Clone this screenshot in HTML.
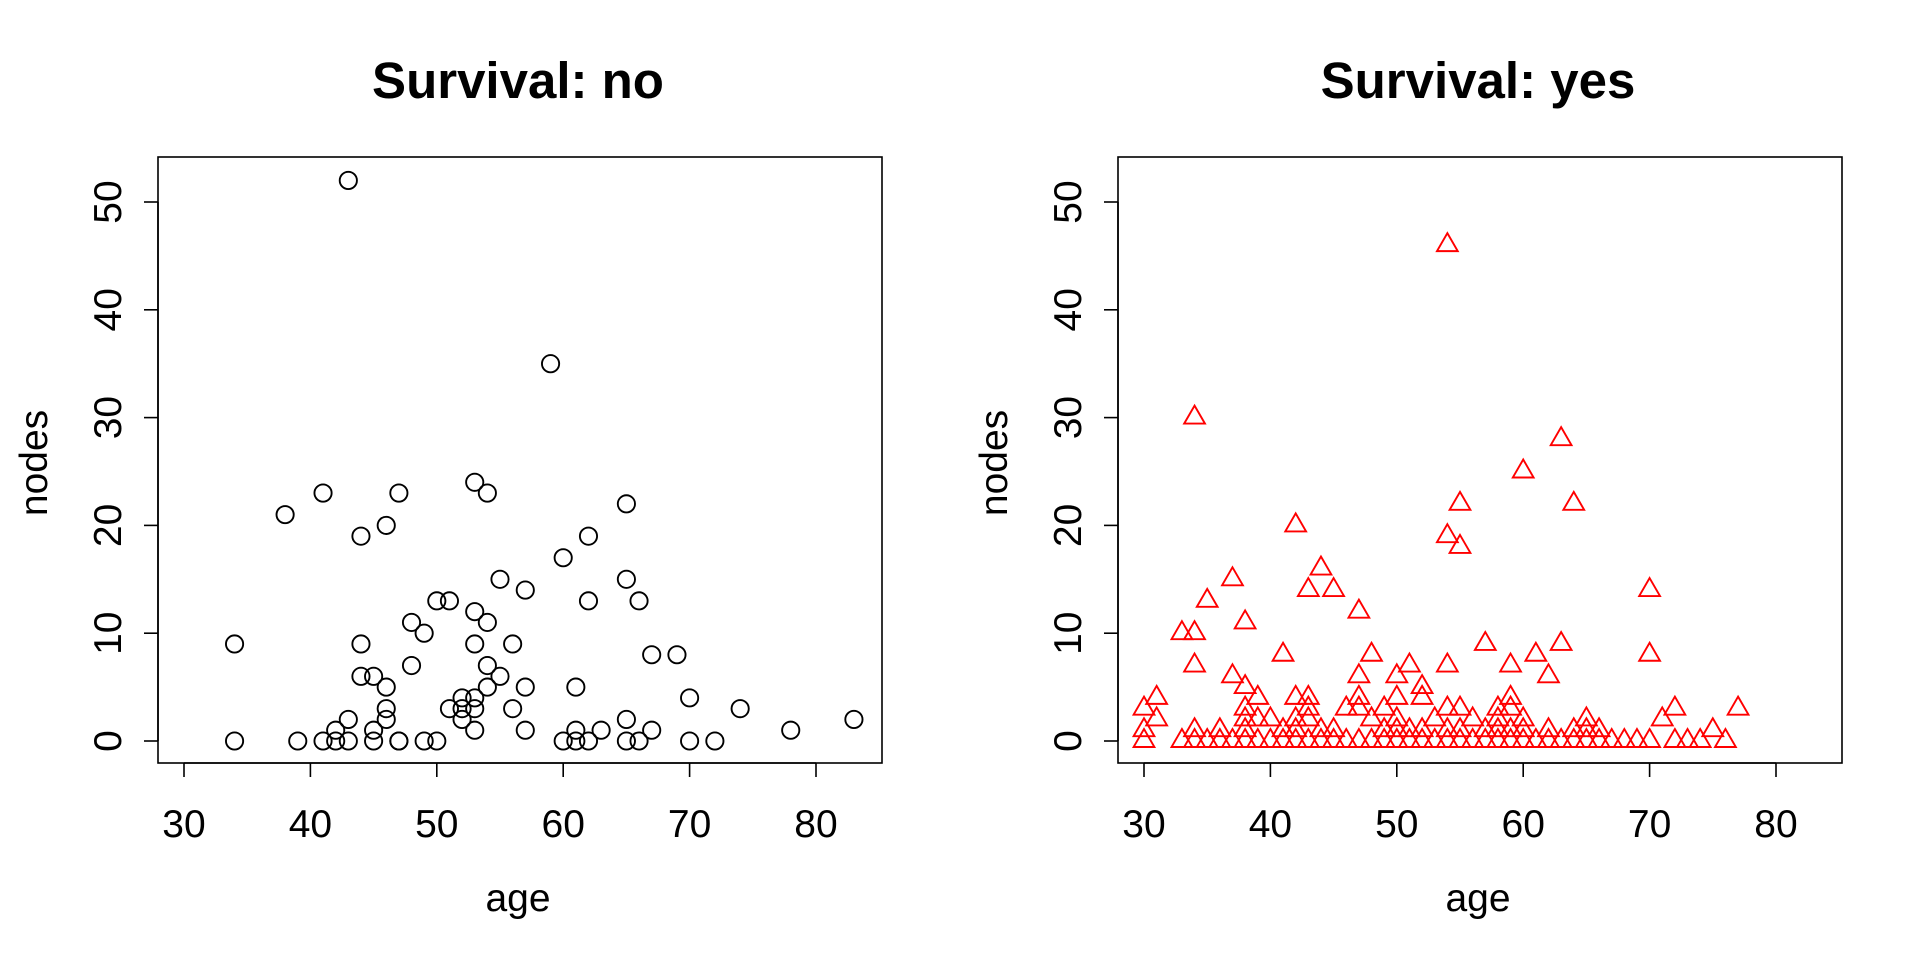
<!DOCTYPE html>
<html><head><meta charset="utf-8"><style>
html,body{margin:0;padding:0;background:#fff;}
svg{display:block;font-family:"Liberation Sans",Arial,sans-serif;}
</style></head><body>
<svg id="chart" width="1920" height="960" viewBox="0 0 1920 960" xmlns="http://www.w3.org/2000/svg"></svg>
<script>
const xTicks = [30, 40, 50, 60, 70, 80];
const yTicks = [0, 10, 20, 30, 40, 50];
const panelTitles = ["Survival: no", "Survival: yes"];
const noAge = [43,59,53,41,47,54,38,65,46,44,62,60,55,65,57,50,51,62,66,53,48,54,34,44,53,56,49,67,69,48,54,44,45,55,46,54,57,61,70,52,53,46,51,52,53,56,74,43,46,52,65,83,42,45,53,57,61,63,67,78,34,39,41,42,43,45,47,49,50,60,61,62,65,66,70,72,47];
const noNodes = [52,35,24,23,23,23,21,22,20,19,19,17,15,15,14,13,13,13,13,12,11,11,9,9,9,9,10,8,8,7,7,6,6,6,5,5,5,5,4,4,4,3,3,3,3,3,3,2,2,2,2,2,1,1,1,1,1,1,1,1,0,0,0,0,0,0,0,0,0,0,0,0,0,0,0,0,0];
const yesAge = [54,34,63,60,64,55,42,54,55,44,37,43,45,70,35,47,38,33,34,57,63,41,48,61,70,34,54,59,51,37,47,50,62,38,52,31,39,42,43,47,50,52,59,30,38,43,46,47,49,54,55,58,59,72,77,31,38,39,40,42,43,48,50,53,56,58,60,65,71,30,34,36,38,41,42,44,45,49,50,51,52,54,55,57,58,59,60,62,64,65,66,75,30,33,34,35,36,37,38,39,40,41,42,43,44,45,46,47,48,49,50,51,52,53,54,55,56,57,58,59,60,61,62,63,64,65,66,67,68,69,70,72,73,74,76];
const yesNodes = [46,30,28,25,22,22,20,19,18,16,15,14,14,14,13,12,11,10,10,9,9,8,8,8,8,7,7,7,7,6,6,6,6,5,5,4,4,4,4,4,4,4,4,3,3,3,3,3,3,3,3,3,3,3,3,2,2,2,2,2,2,2,2,2,2,2,2,2,2,1,1,1,1,1,1,1,1,1,1,1,1,1,1,1,1,1,1,1,1,1,1,1,0,0,0,0,0,0,0,0,0,0,0,0,0,0,0,0,0,0,0,0,0,0,0,0,0,0,0,0,0,0,0,0,0,0,0,0,0,0,0,0,0,0,0];

const NS = "http://www.w3.org/2000/svg";
const svg = document.getElementById("chart");
function mk(tag, attrs, parent){const e=document.createElementNS(NS,tag);for(const k in attrs)e.setAttribute(k,attrs[k]);(parent||svg).appendChild(e);return e;}

function drawPanel(idx, ages, nodes, shape, color){
  const off = idx*960;
  const g = mk("g",{});
  
  
  const xs = v => off + 184 + (v-30)*12.64;
  const ys = v => 741 - v*10.78;
  const box = mk("rect",{x:off+158,y:157,width:724,height:606,fill:"none",stroke:"#000","stroke-width":1.6},g);
  
  
  const t = mk("text",{x:off+518,y:98,"text-anchor":"middle","font-size":51,"font-weight":"bold"},g);
  t.textContent = panelTitles[idx];
  
  
  const xa = mk("g",{},g);
  
  
  mk("line",{x1:xs(xTicks[0]),x2:xs(xTicks[xTicks.length-1]),y1:763,y2:763,stroke:"#000","stroke-width":1.6},xa);
  xTicks.forEach(v=>{
    mk("line",{x1:xs(v),x2:xs(v),y1:763,y2:777,stroke:"#000","stroke-width":1.6},xa);
    const l = mk("text",{x:xs(v),y:837,"text-anchor":"middle","font-size":39},xa);
    l.textContent = v;
    
    
  });
  const xt = mk("text",{x:off+518,y:911,"text-anchor":"middle","font-size":39},g);
  xt.textContent = "age";
  
  
  const ya = mk("g",{},g);
  
  
  mk("line",{x1:off+158,x2:off+158,y1:ys(0),y2:ys(50),stroke:"#000","stroke-width":1.6},ya);
  yTicks.forEach(v=>{
    mk("line",{x1:off+144,x2:off+158,y1:ys(v),y2:ys(v),stroke:"#000","stroke-width":1.6},ya);
    const l = mk("text",{x:0,y:0,"text-anchor":"middle","font-size":39,transform:`translate(${off+121},${ys(v)}) rotate(-90)`},ya);
    l.textContent = v;
    
    
  });
  const yt = mk("text",{x:0,y:0,"text-anchor":"middle","font-size":39,transform:`translate(${off+47},463) rotate(-90)`},g);
  yt.textContent = "nodes";
  
  
  const pg = mk("g",{fill:"none",stroke:color,"stroke-width":1.9},g);
  
  
  ages.forEach((a,i)=>{
    const cx = xs(a), cy = ys(nodes[i]);
    let p;
    if(shape==="circle"){
      p = mk("circle",{cx:cx,cy:cy,r:8.6},pg);
    } else {
      const r=12, hx=10.4, yc=6;
      p = mk("polygon",{points:`${cx},${cy-r} ${cx+hx},${cy+yc} ${cx-hx},${cy+yc}`},pg);
    }
    
    
  });
}
drawPanel(0, noAge, noNodes, "circle", "#000");
drawPanel(1, yesAge, yesNodes, "triangle", "#ff0000");
</script>
</body></html>
